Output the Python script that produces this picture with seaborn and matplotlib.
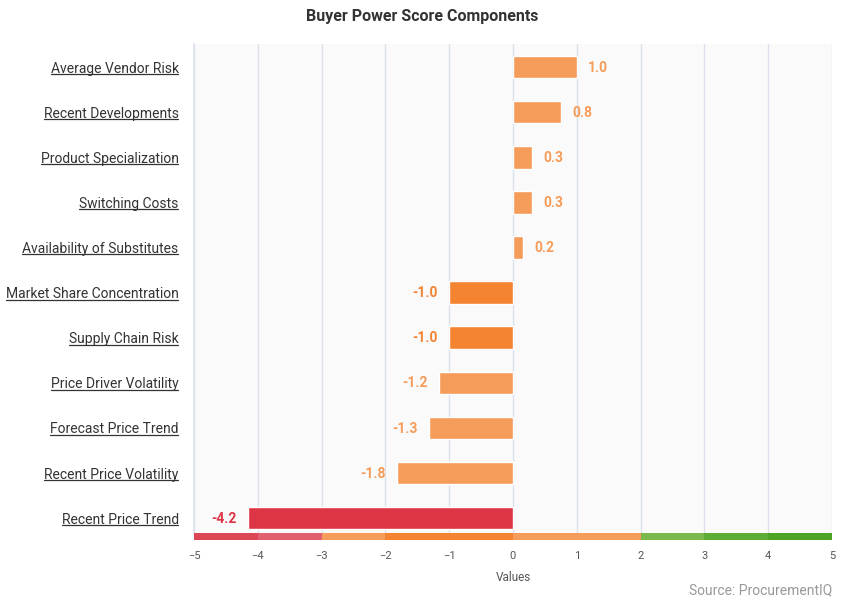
import matplotlib
matplotlib.use("Agg")
import matplotlib.pyplot as plt
import matplotlib.transforms as mtransforms
from matplotlib.lines import Line2D
from matplotlib.patches import Rectangle
import seaborn as sns

# data
categories = ["Average Vendor Risk", "Recent Developments", "Product Specialization",
              "Switching Costs", "Availability of Substitutes", "Market Share Concentration",
              "Supply Chain Risk", "Price Driver Volatility", "Forecast Price Trend",
              "Recent Price Volatility", "Recent Price Trend"]
values = [1.0, 0.75, 0.3, 0.3, 0.16, -1.0, -1.0, -1.16, -1.32, -1.82, -4.16]
labels = ["1.0", "0.8", "0.3", "0.3", "0.2", "-1.0", "-1.0", "-1.2", "-1.3", "-1.8", "-4.2"]
bar_colors = ["#f59c5a", "#f59c5a", "#f59c5a", "#f59c5a", "#f59c5a", "#f48332",
              "#f48332", "#f59c5a", "#f59c5a", "#f59c5a", "#dc3545"]

# coloured scale strip under the x axis
band_edges = [-5, -4, -3, -2, 0, 2, 3, 4, 5]
band_colors = ["#dd4655", "#e0606f", "#f59c5a", "#f48332", "#f59c5a",
               "#7cb94d", "#5fac35", "#4ca324"]
xticks = [-5, -4, -3, -2, -1, 0, 1, 2, 3, 4, 5]

sns.set_theme(style="white")
plt.rcParams["font.family"] = ["Roboto", "DejaVu Sans"]

fig = plt.figure(figsize=(8.44, 6.04), dpi=100)
ax = fig.add_axes([194 / 844, 1 - 533 / 604, 638 / 844, 489 / 604])
ax.set_facecolor("#fafafa")

sns.barplot(x=values, y=categories, hue=categories, palette=bar_colors,
            orient="h", width=0.5, saturation=1, legend=False, ax=ax, zorder=3)

ax.set_xlim(-5, 5)
ax.set_ylim(10.33, -0.51)
ax.set_xticks(xticks)
ax.set_xticklabels([str(t).replace("-", "\u2212") for t in xticks])
ax.tick_params(axis="x", length=0, pad=13, labelsize=8, labelcolor="#555555")
ax.tick_params(axis="y", length=0, pad=11, labelsize=10, labelcolor="#333333")
ax.grid(axis="x", color="#dde1ee", linewidth=1, zorder=0)
ax.set_axisbelow(True)
for s in ["top", "right", "bottom"]:
    ax.spines[s].set_visible(False)
ax.spines["left"].set_color("#dde1ee")
ax.spines["left"].set_linewidth(1.2)
ax.set_xlabel("Values", fontsize=8.5, color="#555555", labelpad=7)
ax.set_ylabel("")

# value labels next to each bar
for i, (v, lab, c) in enumerate(zip(values, labels, bar_colors)):
    off = 8 if v > 0 else -8
    ax.annotate(lab, xy=(v, i), xytext=(off, -0.5), textcoords="offset points",
                ha="left" if v > 0 else "right", va="center",
                fontsize=10, fontweight="bold", color=c)

# scale strip
trans = mtransforms.blended_transform_factory(ax.transData, ax.transAxes)
for x0, x1, c in zip(band_edges[:-1], band_edges[1:], band_colors):
    ax.add_patch(Rectangle((x0, -7 / 489), x1 - x0, 7 / 489, transform=trans,
                           facecolor=c, edgecolor="none", clip_on=False, zorder=4))

fig.text(0.5, 1 - 17 / 604, "Buyer Power Score Components", ha="center", va="center",
         fontsize=11.5, fontweight="bold", color="#333333")
fig.text(832 / 844, 1 - 590 / 604, "Source: ProcurementIQ", ha="right", va="center",
         fontsize=10, color="#999999")

# underline the category labels
fig.canvas.draw()
renderer = fig.canvas.get_renderer()
for t in ax.get_yticklabels():
    bb = t.get_window_extent(renderer)
    y = bb.y0 + 1.5
    fig.add_artist(Line2D([bb.x0, bb.x1 - 1], [y, y], transform=None,
                          color="#333333", linewidth=0.9))

fig.savefig("out.png", dpi=100)
